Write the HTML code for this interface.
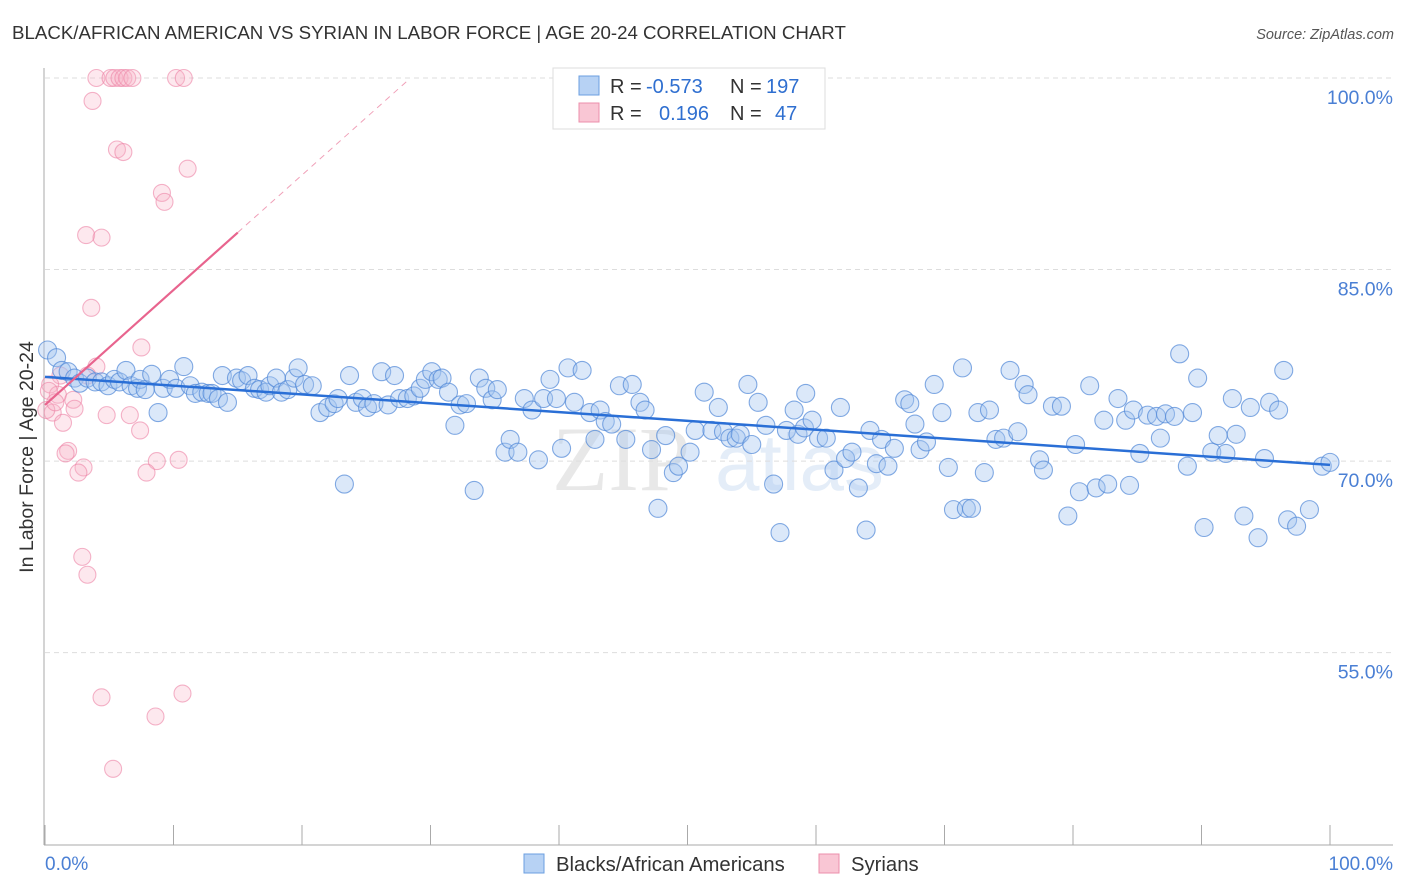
<!DOCTYPE html>
<html><head><meta charset="utf-8"><style>
body{margin:0;background:#fff;font-family:"Liberation Sans",sans-serif;}
svg{display:block}
</style></head><body>
<svg id="c" width="1406" height="892">
<text x="12" y="39" font-size="18.7" fill="#333">BLACK/AFRICAN AMERICAN VS SYRIAN IN LABOR FORCE | AGE 20-24 CORRELATION CHART</text>
<text x="1394" y="39" font-size="14.5" fill="#555" font-style="italic" text-anchor="end">Source: ZipAtlas.com</text>
<g opacity="0.55">
<text x="552" y="490" font-size="92" fill="#d6d6d6" font-family="Liberation Serif">ZIP</text>
<text x="715" y="490" font-size="80" fill="#cfe0f3">atlas</text>
</g>
<g id="grid"></g>
<g id="axes"></g>
<g id="pink"></g>
<g id="blue"></g>
<g id="trends"></g>
<text transform="translate(33,457) rotate(-90)" font-size="19.5" fill="#333" text-anchor="middle">In Labor Force | Age 20-24</text>
<g>
<rect x="553" y="68" width="272" height="61" fill="#fff" stroke="#ddd"/>
<rect x="579" y="76" width="20" height="19" fill="#b7d2f4" stroke="#6b9fe0"/>
<rect x="579" y="103" width="20" height="19" fill="#f9c6d4" stroke="#ec8fab"/>
<text y="93" font-size="20" fill="#333"><tspan x="610">R =</tspan><tspan x="646" fill="#2f6fd0">-0.573</tspan><tspan x="730">N =</tspan><tspan x="766" fill="#2f6fd0">197</tspan></text>
<text y="120" font-size="20" fill="#333"><tspan x="610">R =</tspan><tspan x="659" fill="#2f6fd0">0.196</tspan><tspan x="730">N =</tspan><tspan x="775" fill="#2f6fd0">47</tspan></text>
</g>
<g>
<rect x="524" y="854" width="20" height="19" fill="#b7d2f4" stroke="#6b9fe0"/>
<text x="556" y="871" font-size="20.3" fill="#333">Blacks/African Americans</text>
<rect x="819" y="854" width="20" height="19" fill="#f9c6d4" stroke="#ec8fab"/>
<text x="851" y="871" font-size="20.3" fill="#333">Syrians</text>
</g>
</svg>
<script>
const yTicks=[100,85,70,55];
const yTickLabels=["100.0%","85.0%","70.0%","55.0%"];
const xTickCount=10;
const blueX=[0.2,0.9,1.3,1.8,2.3,2.7,3.3,3.9,4.4,4.9,5.4,5.8,6.3,6.7,7.2,7.4,7.8,8.3,8.8,9.2,9.7,10.2,10.8,11.3,11.7,12.2,12.7,13.0,13.5,13.8,14.2,14.9,15.3,15.8,16.3,16.7,17.2,17.5,18.0,18.4,18.9,19.4,19.7,20.2,20.8,21.4,22.0,22.5,22.8,23.3,23.7,24.2,24.7,25.1,25.6,26.2,26.7,27.2,27.6,28.2,28.7,29.2,29.6,30.1,30.6,30.9,31.4,31.9,32.3,32.8,33.4,33.8,34.3,34.8,35.2,35.8,36.2,36.8,37.3,37.9,38.4,38.8,39.3,39.8,40.2,40.7,41.2,41.8,42.4,42.8,43.2,43.6,44.1,44.7,45.2,45.7,46.3,46.7,47.2,47.7,48.3,48.9,49.3,50.2,50.6,51.3,51.9,52.4,52.8,53.3,53.8,54.1,54.7,55.0,55.5,56.1,56.7,57.2,57.7,58.3,58.6,59.1,59.2,59.7,60.2,60.8,61.4,61.9,62.3,62.8,63.3,63.9,64.2,64.7,65.1,65.6,66.1,66.9,67.3,67.7,68.1,68.6,69.2,69.8,70.3,70.7,71.4,71.7,72.1,72.6,73.1,73.5,74.0,74.6,75.1,75.7,76.2,76.5,77.4,77.7,78.4,79.1,79.6,80.2,80.5,81.3,81.8,82.4,82.7,83.5,84.1,84.4,84.7,85.2,85.8,86.5,86.8,87.2,87.9,88.3,88.9,89.3,89.7,90.2,90.8,91.3,91.9,92.4,92.7,93.3,93.8,94.4,94.9,95.3,96.0,96.4,96.7,97.4,98.4,99.4,100.0];
const blueY=[78.7,78.1,77.1,77.0,76.5,76.1,76.5,76.2,76.2,75.9,76.4,76.2,77.1,75.9,75.7,76.4,75.6,76.8,73.8,75.7,76.4,75.7,77.4,75.9,75.3,75.4,75.3,75.3,74.9,76.7,74.6,76.5,76.3,76.7,75.7,75.6,75.4,75.9,76.5,75.4,75.6,76.5,77.3,76.0,75.9,73.8,74.2,74.5,74.9,68.2,76.7,74.6,74.9,74.2,74.5,77.0,74.4,76.7,74.9,74.9,75.1,75.7,76.4,77.0,76.4,76.5,75.4,72.8,74.4,74.5,67.7,76.5,75.7,74.8,75.6,70.7,71.7,70.7,74.9,74.0,70.1,74.9,76.4,74.9,71.0,77.3,74.6,77.1,73.8,71.7,74.0,73.1,72.9,75.9,71.7,76.0,74.6,74.0,70.9,66.3,72.0,69.1,69.6,70.7,72.4,75.4,72.4,74.2,72.3,71.8,71.8,72.1,76.0,71.3,74.6,72.8,68.2,64.4,72.4,74.0,72.1,72.6,75.3,73.2,71.8,71.8,69.3,74.2,70.2,70.7,67.9,64.6,72.4,69.8,71.7,69.6,71.0,74.8,74.5,72.9,70.9,71.5,76.0,73.8,69.5,66.2,77.3,66.3,66.3,73.8,69.1,74.0,71.7,71.8,77.1,72.3,76.0,75.2,70.1,69.3,74.3,74.3,65.7,71.3,67.6,75.9,67.9,73.2,68.2,74.9,73.2,68.1,74.0,70.6,73.6,73.5,71.8,73.7,73.5,78.4,69.6,73.8,76.5,64.8,70.7,72.0,70.6,74.9,72.1,65.7,74.2,64.0,70.2,74.6,74.0,77.1,65.4,64.9,66.2,69.6,69.9];
const pinkX=[4.0,5.1,5.4,5.8,6.1,6.4,6.8,10.2,10.8,3.7,5.6,6.1,11.1,9.1,9.3,3.2,4.4,3.6,7.5,4.0,3.3,1.2,0.4,1.0,2.2,0.6,2.3,1.4,4.8,6.6,7.4,1.8,1.6,3.0,2.6,8.7,10.4,7.9,2.9,3.3,4.4,10.7,8.6,5.3,0.1,0.3,0.8];
const pinkY=[100,100,100,100,100,100,100,100,100,98.2,94.4,94.2,92.9,91.0,90.3,87.7,87.5,82.0,78.9,77.4,76.7,76.7,76.0,75.2,74.8,73.8,74.1,73.0,73.6,73.6,72.4,70.8,70.6,69.5,69.1,70.0,70.1,69.1,62.5,61.1,51.5,51.8,50.0,45.9,74.0,75.5,74.6];
const blueTrend={x0:0,y0:76.6,x1:100,y1:69.7};
const pinkTrend={x0:0,y0:74.4,x1:15,y1:87.9,xd:28.4};

const NS="http://www.w3.org/2000/svg";
const X=v=>45+v*12.85;
const Y=v=>78+(100-v)*12.77;
function mk(t,a,p){const e=document.createElementNS(NS,t);for(const k in a)e.setAttribute(k,a[k]);p.appendChild(e);return e;}
const grid=document.getElementById('grid'),axes=document.getElementById('axes');
yTicks.forEach((t,i)=>{
 const l=mk('line',{x1:45,x2:1393,y1:Y(t),y2:Y(t),stroke:'#ddd','stroke-dasharray':'5,4'},grid);
 
 
 const tx=mk('text',{x:1393,y:Y(t)+26,'font-size':19.5,fill:'#4a7fd4','text-anchor':'end'},axes);
 tx.textContent=yTickLabels[i];
 
 
});
let a=mk('line',{x1:44,x2:44,y1:68,y2:845,stroke:'#aaa'},axes);


a=mk('line',{x1:44,x2:1393,y1:845,y2:845,stroke:'#aaa'},axes);


for(let i=0;i<=xTickCount;i++){
 const t=mk('line',{x1:X(i*10),x2:X(i*10),y1:825,y2:845,stroke:'#aaa'},axes);
 
 
}
[[0,45,'start','0.0%'],[100,1393,'end','100.0%']].forEach(d=>{
 const t=mk('text',{x:d[1],y:870,'font-size':19,fill:'#4a7fd4','text-anchor':d[2]},axes);
 t.textContent=d[3];
 
 
});
const pg=document.getElementById('pink');
pinkX.forEach((x,i)=>{
 const c=mk('circle',{cx:X(x),cy:Y(pinkY[i]),r:8.5,fill:'rgba(248,180,200,0.3)',stroke:'rgba(236,130,165,0.6)','stroke-width':1.1},pg);
 
 
});
const bg=document.getElementById('blue');
blueX.forEach((x,i)=>{
 const c=mk('circle',{cx:X(x),cy:Y(blueY[i]),r:9,fill:'rgba(165,198,240,0.4)',stroke:'rgba(80,135,215,0.7)','stroke-width':1.1},bg);
 
 
});
const tg=document.getElementById('trends');
let t=mk('line',{x1:X(blueTrend.x0),y1:Y(blueTrend.y0),x2:X(blueTrend.x1),y2:Y(blueTrend.y1),stroke:'#2a6fd6','stroke-width':2.5},tg);


const ps=(pinkTrend.y1-pinkTrend.y0)/(pinkTrend.x1-pinkTrend.x0);
t=mk('line',{x1:X(pinkTrend.x0),y1:Y(pinkTrend.y0),x2:X(pinkTrend.x1),y2:Y(pinkTrend.y1),stroke:'#e8648e','stroke-width':2.2},tg);


t=mk('line',{x1:X(pinkTrend.x1),y1:Y(pinkTrend.y1),x2:X(pinkTrend.xd),y2:Y(pinkTrend.y0+ps*pinkTrend.xd),stroke:'#f0a0b8','stroke-width':1,'stroke-dasharray':'6,5'},tg);


</script>
</body></html>
